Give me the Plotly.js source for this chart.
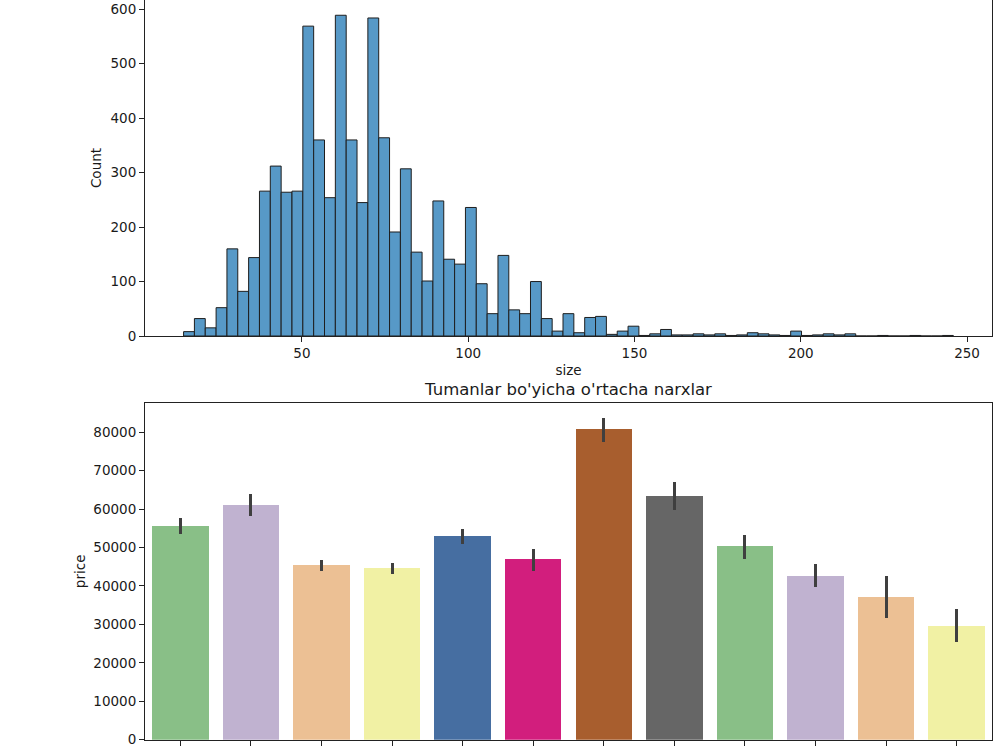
<!DOCTYPE html>
<html>
<head>
<meta charset="utf-8">
<script src="https://cdn.plot.ly/plotly-3.0.1.min.js"></script>
<style>html,body{margin:0;padding:0;background:#fff;}#chart{width:1000px;height:750px;}</style>
</head>
<body>
<div id="chart"></div>
<script>
// ---- Histogram of apartment size ----
const sizeBinStart = 14.4;
const sizeBinWidth = 3.26;
const sizeCounts = [
  8, 32, 15, 52, 160, 82, 144, 266, 312, 264,
  266, 569, 360, 254, 589, 360, 245, 584, 364, 191,
  307, 154, 101, 248, 141, 132, 236, 96, 41, 148,
  48, 41, 100, 32, 9, 41, 6, 34, 36, 3,
  9, 18, 1, 4, 12, 2, 2, 4, 2, 4,
  1, 2, 6, 4, 2, 1, 9, 1, 2, 4,
  2, 4, 0, 0, 1, 0, 0, 1, 0, 0,
  1
];
const sizeTicks = [50, 100, 150, 200, 250];
const countTicks = [0, 100, 200, 300, 400, 500, 600];

// ---- Mean price by district ----
const districts = ["Tuman 1", "Tuman 2", "Tuman 3", "Tuman 4", "Tuman 5", "Tuman 6",
                   "Tuman 7", "Tuman 8", "Tuman 9", "Tuman 10", "Tuman 11", "Tuman 12"];
const priceMean = [55600, 61100, 45400, 44600, 53100, 47100, 80900, 63300, 50400, 42600, 37100, 29600];
const priceLow  = [53500, 58200, 43900, 43200, 51000, 43900, 77500, 59900, 47100, 39700, 31600, 25400];
const priceHigh = [57600, 63900, 46850, 45900, 54800, 49600, 83600, 67000, 53200, 45700, 42600, 34100];
const priceTicks = [0, 10000, 20000, 30000, 40000, 50000, 60000, 70000, 80000];
const barColors = ["rgb(137,191,135)", "rgb(192,178,208)", "rgb(236,192,148)", "rgb(241,241,164)",
                   "rgb(70,110,161)", "rgb(210,30,125)", "rgb(168,94,46)", "rgb(102,102,102)",
                   "rgb(137,191,135)", "rgb(192,178,208)", "rgb(236,192,148)", "rgb(241,241,164)"];

const binCenters = sizeCounts.map((c, i) => sizeBinStart + (i + 0.5) * sizeBinWidth);

const font = {family: "DejaVu Sans, sans-serif", size: 13.5, color: "#1a1a1a"};

const histTrace = {
  type: "bar",
  x: binCenters,
  y: sizeCounts,
  width: sizeCounts.map(() => sizeBinWidth),
  marker: {color: "rgb(87,153,199)", line: {color: "rgb(30,30,30)", width: 1}},
  xaxis: "x", yaxis: "y",
  hoverinfo: "x+y",
  showlegend: false
};

const priceTrace = {
  type: "bar",
  x: districts,
  y: priceMean,
  width: 0.8,
  marker: {color: barColors, line: {width: 0}},
  error_y: {
    type: "data", symmetric: false,
    array: priceHigh.map((h, i) => h - priceMean[i]),
    arrayminus: priceLow.map((l, i) => priceMean[i] - l),
    color: "#3f3f3f", thickness: 3, width: 0
  },
  xaxis: "x2", yaxis: "y2",
  showlegend: false
};

const axisCommon = {
  showline: true, mirror: true, linecolor: "#222", linewidth: 1,
  ticks: "outside", ticklen: 5, tickcolor: "#222", tickwidth: 1,
  showgrid: false, zeroline: false, tickfont: font
};

const layout = {
  width: 1000, height: 750,
  margin: {l: 0, r: 0, t: 0, b: 0},
  paper_bgcolor: "#fff", plot_bgcolor: "#fff",
  font: font,
  bargap: 0,
  title: {
    text: "Tumanlar bo'yicha o'rtacha narxlar",
    x: 0.5685, y: 1 - 389 / 750, xref: "paper", yref: "paper",
    xanchor: "center", yanchor: "middle",
    font: {family: "DejaVu Sans, sans-serif", size: 16.5, color: "#1a1a1a"}
  },
  xaxis: Object.assign({}, axisCommon, {
    domain: [0.145, 0.992], anchor: "y",
    range: [2.8, 257.5], tickvals: sizeTicks,
    title: {text: "size", font: font, standoff: 5}
  }),
  yaxis: Object.assign({}, axisCommon, {
    domain: [1 - 336 / 750, 1], anchor: "x",
    range: [0, 617], tickvals: countTicks,
    title: {text: "Count", font: font, standoff: 5}
  }),
  xaxis2: Object.assign({}, axisCommon, {
    domain: [0.145, 0.992], anchor: "y2",
    range: [-0.5, 11.5], type: "category",
    showticklabels: false
  }),
  yaxis2: Object.assign({}, axisCommon, {
    domain: [(750 - 739.7) / 750, (750 - 403) / 750], anchor: "x2",
    range: [0, 87620], tickvals: priceTicks, tickformat: "d",
    title: {text: "price", font: font, standoff: 4}
  })
};

Plotly.newPlot("chart", [histTrace, priceTrace], layout, {displayModeBar: false, staticPlot: true});
</script>
</body>
</html>
